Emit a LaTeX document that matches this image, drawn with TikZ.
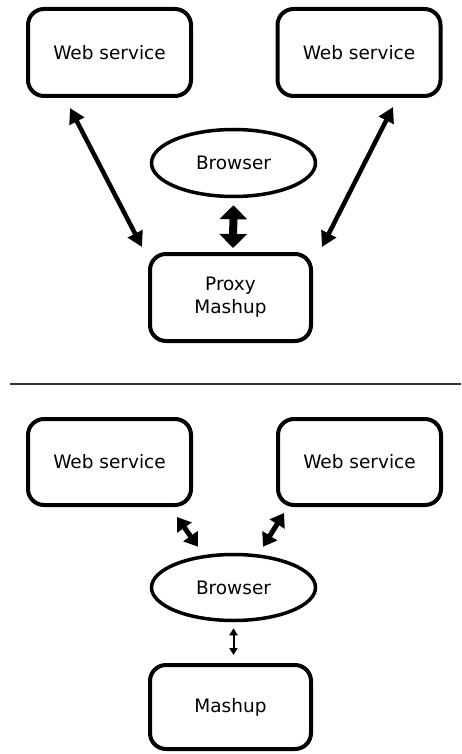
\documentclass[tikz,border=0pt]{standalone}
\usepackage{fontspec}
\setmainfont{DejaVu Sans}
\usetikzlibrary{shapes.geometric,arrows.meta,calc}
\begin{document}
\begin{tikzpicture}[x=1pt,y=-1pt,
  box/.style={draw,line width=4pt,rounded corners=16pt,inner sep=0pt,align=center,
    font=\fontsize{18.5}{23}\selectfont},
  oval/.style={draw,ellipse,line width=3.5pt,inner sep=0pt,
    font=\fontsize{18.5}{23}\selectfont},
  bigarrow/.style={line width=4.5pt,{Triangle[length=15pt,width=16pt]}-{Triangle[length=15pt,width=16pt]}},
  fatarrow/.style={line width=8pt,{Triangle[length=14pt,width=27pt]}-{Triangle[length=14pt,width=27pt]}},
  midarrow/.style={line width=5pt,{Triangle[length=13pt,width=17pt]}-{Triangle[length=13pt,width=17pt]}},
  thinarrow/.style={line width=2pt,{Triangle[length=7pt,width=8pt]}-{Triangle[length=7pt,width=8pt]}}]
\useasboundingbox (0,0) rectangle (461,754);
% top part
\node[box,minimum width=163pt,minimum height=87pt] (ws1) at (109.5,52.5) {Web service};
\node[box,minimum width=163pt,minimum height=87pt] (ws2) at (359,52.5) {Web service};
\node[oval,minimum width=164pt,minimum height=67pt] (br1) at (233.5,163) {Browser};
\node[box,minimum width=161pt,minimum height=87pt] (proxy) at (230.5,297.5) {Proxy\\Mashup};
\draw[bigarrow] ($(ws1.south)+(-39.5,10)$) -- ($(proxy.north west)+(-6,-5)$);
\draw[bigarrow] ($(ws2.south)+(34,9)$) -- ($(proxy.north east)+(9,-5)$);
\draw[fatarrow] ($(br1.south)+(0,7)$) -- ($(proxy.north)+(2.5,-4)$);
% separator
\draw[line width=1.5pt,black!80] (10,384) -- (461,384);
% bottom part
\node[box,minimum width=163pt,minimum height=86pt] (ws3) at (109.5,462) {Web service};
\node[box,minimum width=163pt,minimum height=86pt] (ws4) at (359.5,462) {Web service};
\node[oval,minimum width=164pt,minimum height=66pt] (br2) at (233.5,587.5) {Browser};
\node[box,minimum width=161pt,minimum height=84pt] (mash) at (230.5,707) {Mashup};
\draw[midarrow] ($(ws3.south east)+(-16,10)$) -- ($(br2.north)+(-35.5,-6)$);
\draw[midarrow] ($(ws4.south west)+(8,6)$) -- ($(br2.north)+(29.5,-6)$);
\draw[thinarrow] ($(br2.south)+(0,6)$) -- ($(mash.north)+(3,-8)$);
\end{tikzpicture}
\end{document}
